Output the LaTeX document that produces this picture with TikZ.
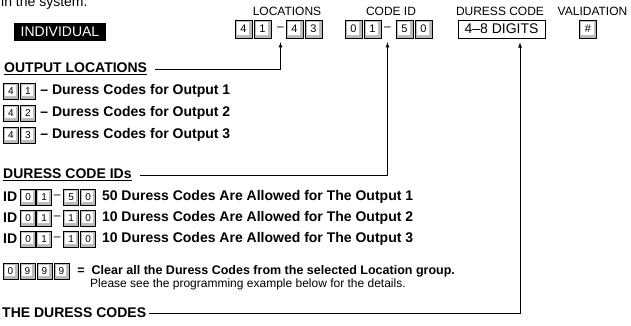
\documentclass[tikz,border=0pt]{standalone}
\usepackage{fontspec}
\setmainfont{Liberation Sans}
\usetikzlibrary{positioning}

\begin{document}
\begin{tikzpicture}[x=1pt,y=1pt]
	\tikzstyle{keycap} = [draw, fill=gray!55, rectangle, minimum width=15pt, minimum height=16pt, inner sep=0pt, node distance=17pt, font={\fontsize{10}{10}\selectfont}, path picture={\draw[gray!50, fill=white] ([shift={(1pt,-1pt)}]path picture bounding box.north west) rectangle ([shift={(-2.5pt,2.5pt)}]path picture bounding box.south east);}]
	\tikzstyle{bigcap} = [minimum width=17pt, minimum height=18pt, node distance=19pt, font={\fontsize{11}{11}\selectfont}]
	\tikzstyle{sepmark} = [inner sep=0pt, font={\fontsize{12}{12}\selectfont}]
	\tikzstyle{toplabel} = [inner sep=0pt, font={\fontsize{12}{12}\selectfont}]
	\tikzstyle{headline} = [inner sep=0pt, anchor=west, font={\fontsize{14}{14}\selectfont\bfseries}]
	\tikzstyle{rowtext} = [inner sep=0pt, anchor=west, font={\fontsize{14}{14}\selectfont\bfseries}]
	\tikzstyle{remark} = [inner sep=0pt, anchor=west, font={\fontsize{12}{12}\selectfont}]
	\useasboundingbox (0,0) rectangle (631,-326);

	% top line
	\node[remark, anchor=base west, font={\fontsize{14}{14}\selectfont}] (intro) at (1,-7) {in the system.};
	\node[fill=black, text=white, minimum width=92pt, minimum height=18pt, inner sep=0pt, font={\fontsize{14}{14}\selectfont}] (individual) at (60,-32) {INDIVIDUAL};

	\node[keycap, bigcap] (loca) at (243.5,-29) {4};
	\node[keycap, bigcap] (locb) [right of=loca] {1};
	\node[sepmark] (locdash) [right of=locb, node distance=18pt] {--};
	\node[keycap, bigcap] (locc) [right of=locb, node distance=32pt] {4};
	\node[keycap, bigcap] (locd) [right of=locc] {3};
	\node[toplabel] (loclabel) at (287,-11) {LOCATIONS};

	\node[keycap, bigcap] (ida) at (353.5,-29) {0};
	\node[keycap, bigcap] (idb) [right of=ida] {1};
	\node[sepmark] (iddash) [right of=idb, node distance=15pt] {--};
	\node[keycap, bigcap] (idc) [right of=idb, node distance=32pt] {5};
	\node[keycap, bigcap] (idd) [right of=idc] {0};
	\node[toplabel] (idlabel) at (391,-11) {CODE ID};

	\node[draw, line width=0.8pt, minimum width=87pt, minimum height=18pt, inner sep=0pt, font={\fontsize{14}{14}\selectfont}] (duress) at (501.5,-29) {4--8 DIGITS};
	\node[toplabel] (duresslabel) at (500,-11) {DURESS CODE};

	\node[keycap, bigcap] (hash) at (588,-29) {\#};
	\node[toplabel] (hashlabel) at (592.5,-11) {VALIDATION};

	% output locations
	\node[headline] (outloc) at (4,-69) {\underline{OUTPUT LOCATIONS}};
	\node[keycap] (oa1) at (11,-91) {4};
	\node[keycap] (oa2) [right of=oa1] {1};
	\node[rowtext] (oa) [right=4.5pt of oa2] {-- Duress Codes for Output 1};
	\node[keycap] (ob1) [below of=oa1, node distance=22pt] {4};
	\node[keycap] (ob2) [right of=ob1] {2};
	\node[rowtext] (ob) [right=4.5pt of ob2] {-- Duress Codes for Output 2};
	\node[keycap] (oc1) [below of=ob1, node distance=22pt] {4};
	\node[keycap] (oc2) [right of=oc1] {3};
	\node[rowtext] (oc) [right=4.5pt of oc2] {-- Duress Codes for Output 3};

	% code ids
	\node[headline] (codeids) at (3,-175) {\underline{DURESS CODE IDs}};
	\foreach \row/\y/\hi/\lo/\num in {1/197/5/0/50, 2/218/1/0/10, 3/239/1/0/10} {
		\node[rowtext] (id\row) at (3,-\y) {ID};
		\node[keycap] (id\row a) [right=3pt of id\row] {0};
		\node[keycap] (id\row b) [right of=id\row a, node distance=16pt] {1};
		\node[sepmark] (id\row dash) [right of=id\row b, node distance=13pt] {--};
		\node[keycap] (id\row c) [right of=id\row b, node distance=27pt] {\hi};
		\node[keycap] (id\row d) [right of=id\row c] {\lo};
		\node[rowtext] (id\row text) [right=6pt of id\row d] {\num\ Duress Codes Are Allowed for The Output \row};
	}

	% clear all
	\node[keycap] (clra) at (10.5,-271) {0};
	\node[keycap] (clrb) [right of=clra] {9};
	\node[keycap] (clrc) [right of=clrb] {9};
	\node[keycap] (clrd) [right of=clrc] {9};
	\node[rowtext, font={\fontsize{12.5}{12.5}\selectfont\bfseries}] (clr) [right=8pt of clrd] {=\ \ Clear all the Duress Codes from the selected Location group.};
	\node[remark] (clrnote) at (90,-284.5) {Please see the programming example below for the details.};

	% the codes
	\node[headline] (codes) at (2,-313) {THE DURESS CODES};

	\draw[-latex, line width=0.8pt] ([xshift=8pt]outloc.east) -| ([yshift=-4pt]locdash.south |- loca.south);
	\draw[-latex, line width=0.8pt] ([xshift=8pt]codeids.east) -| ([yshift=-4pt]iddash.south |- ida.south);
	\draw[-latex, line width=0.8pt] ([xshift=3pt]codes.east) -| ([xshift=18.5pt,yshift=-4pt]duress.south);
\end{tikzpicture}
\end{document}
